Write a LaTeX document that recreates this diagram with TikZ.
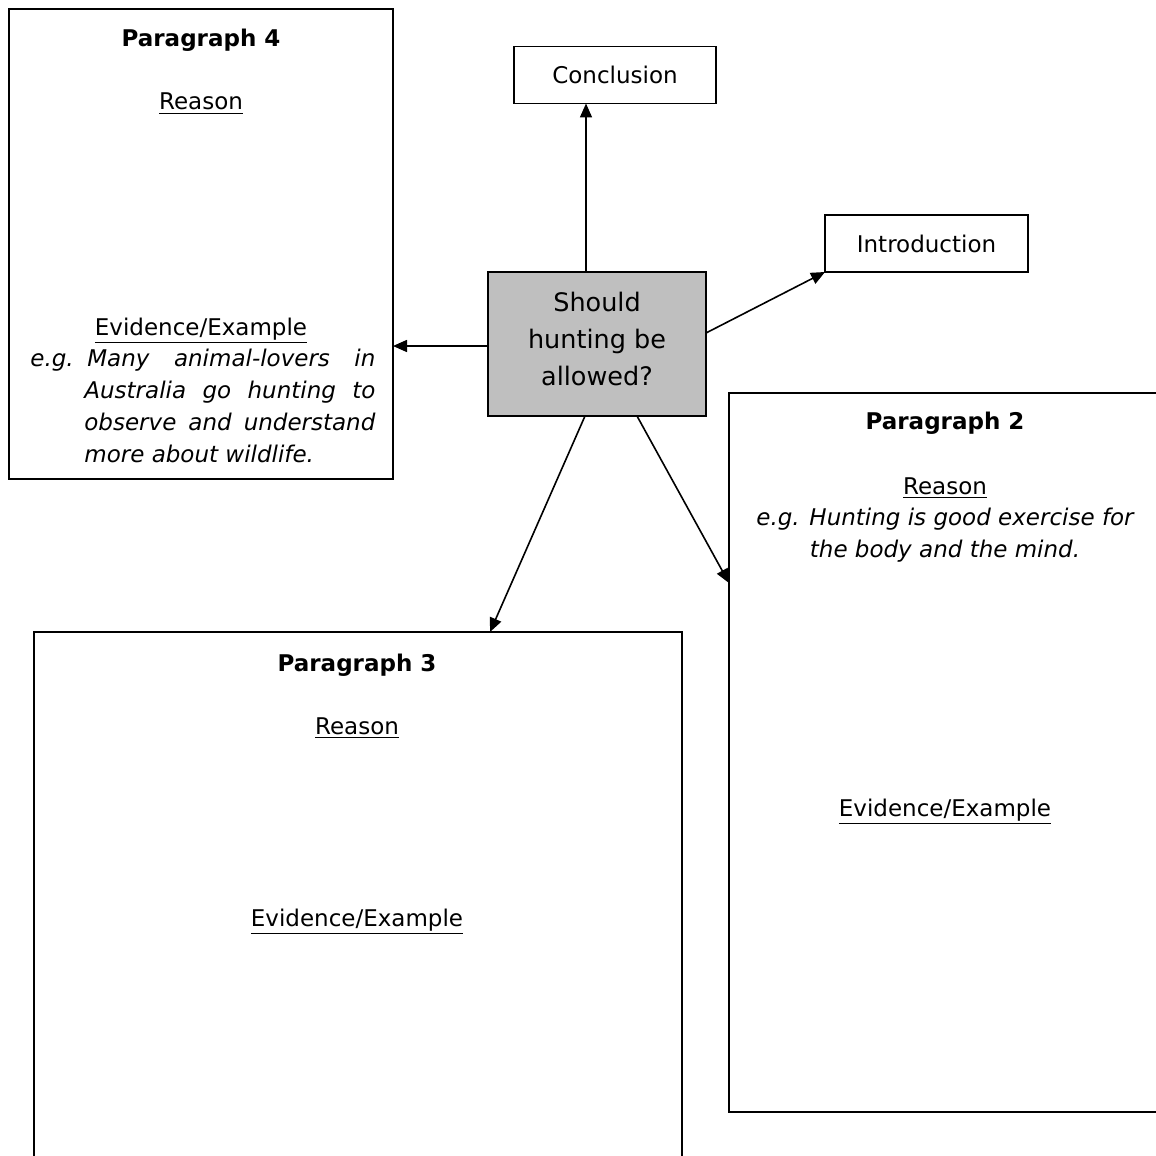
\documentclass[tikz,border=0pt]{standalone}
\usepackage{fontspec}
\setmainfont{DejaVu Sans}
\usetikzlibrary{arrows.meta, positioning, calc}

\newcommand\bodyfont{\fontsize{11.5}{16}\selectfont}
\tikzset{
  box/.style={draw, line width=0.9pt, inner sep=0pt, outer sep=0pt, align=center},
  arr/.style={line width=0.8pt, -{Triangle[length=7pt,width=6pt]}},
  txt/.style={inner sep=0pt, anchor=base},
}

\begin{document}
\begin{tikzpicture}[x=0.5pt, y=-0.5pt, font=\bodyfont]
\useasboundingbox (0,0) rectangle (1156,1156);
\clip (0,0) rectangle (1156,1156);
% the question in the middle
\node[box, fill=gray!50, minimum width=109pt, minimum height=72pt] (q) at (597,344) {};
\node[align=center, inner sep=0pt, font=\fontsize{12.75}{18.5}\selectfont] (qtext) at (597,339)
  {Should\\hunting be\\allowed?};
\node[box, minimum width=101pt, minimum height=28.5pt] (concl) at (615,75) {Conclusion};
\node[box, minimum width=101.5pt, minimum height=28.5pt] (intro) at (926.5,243.5) {Introduction};

% paragraph boxes
\node[box, anchor=north west, minimum width=192pt, minimum height=235pt] (p4) at (9,9) {};
\node[box, anchor=north west, minimum width=220.5pt, minimum height=359.5pt] (p2) at (729,393) {};
\node[box, anchor=north west, minimum width=324pt, minimum height=269pt] (p3) at (34,632) {};

% Paragraph 4
\node[txt, font=\bodyfont\bfseries] (p4head) at (201,47) {Paragraph 4};
\node[txt] (p4reason) at (201,110) {\underline{Reason}};
\node[txt] (p4evid) at (201,335) {\underline{Evidence/Example}};
\node[inner sep=0pt, anchor=north west, font=\bodyfont\itshape] (p4eg) at (30,349)
  {\begin{minipage}{172.5pt}\hangindent=27pt\hangafter=1\noindent
   \makebox[28.5pt][l]{e.g.}Many animal-lovers in\linebreak
   Australia go hunting to\linebreak observe and understand\linebreak
   more about wildlife.\end{minipage}};

% Paragraph 2
\node[txt, font=\bodyfont\bfseries] (p2head) at (945,429) {Paragraph 2};
\node[txt] (p2reason) at (945,494) {\underline{Reason}};
\node[align=center, inner sep=0pt, font=\bodyfont\itshape] (p2eg) at (945,535)
  {e.g. Hunting is good exercise for\\the body and the mind.};
\node[txt] (p2evid) at (945,816) {\underline{Evidence/Example}};

% Paragraph 3
\node[txt, font=\bodyfont\bfseries] (p3head) at (357,671) {Paragraph 3};
\node[txt] (p3reason) at (357,734) {\underline{Reason}};
\node[txt] (p3evid) at (357,926) {\underline{Evidence/Example}};

% arrows
\draw[arr] ([xshift=-5.5pt]q.north) -- ([xshift=-5.5pt]q.north |- concl.south);
\draw[arr] ([yshift=5.5pt]q.east) -- (intro.south west);
\draw[arr] ([yshift=-1pt]q.west) -- ([yshift=-1pt]q.west -| p4.east);
\draw[arr] ([xshift=-6pt]q.south) -- ([xshift=66pt]p3.north);
\draw[arr] ([xshift=20pt]q.south) -- ([yshift=-95pt]p2.north west);
\end{tikzpicture}
\end{document}
